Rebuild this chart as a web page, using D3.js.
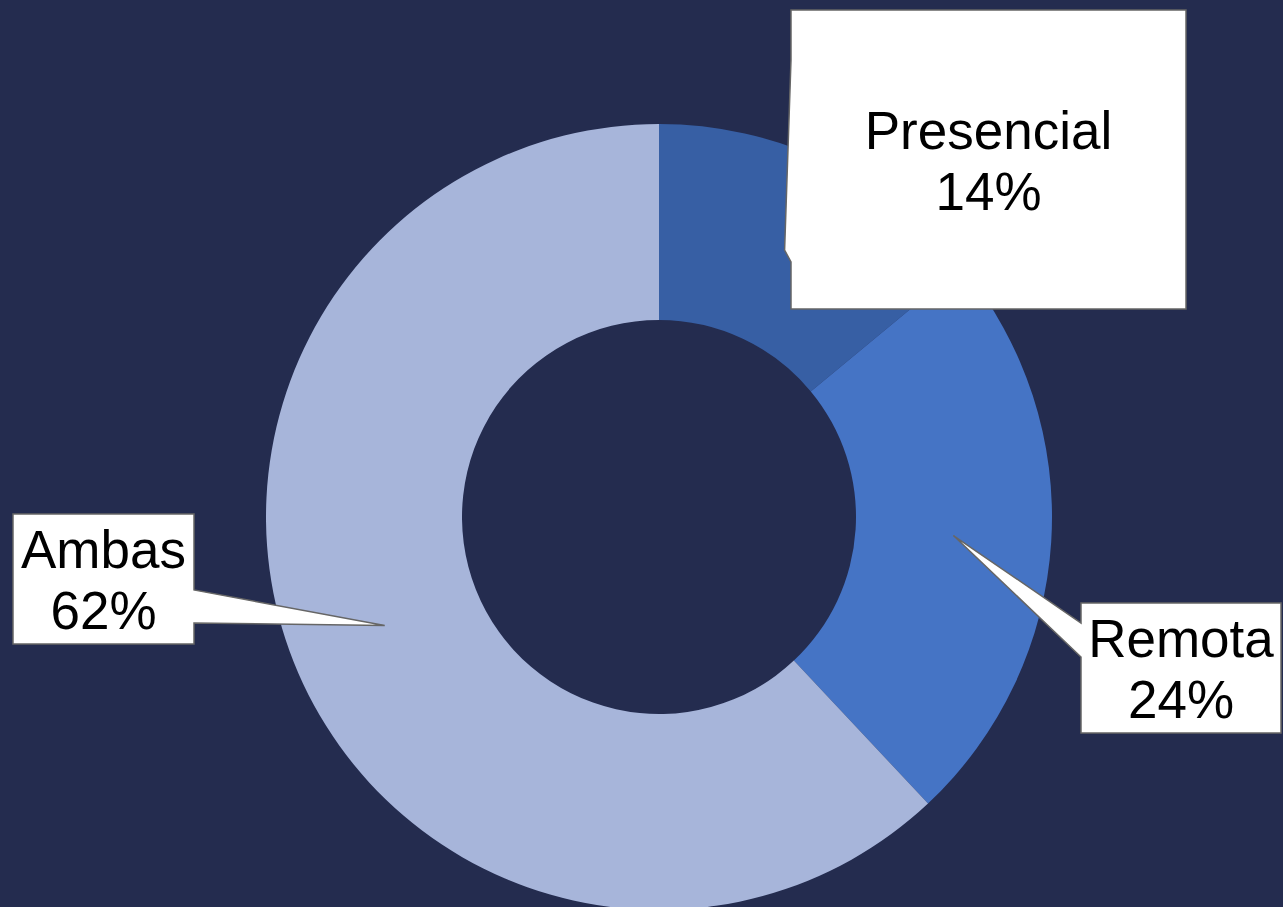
<!DOCTYPE html>
<html>
<head>
<meta charset="utf-8">
<script src="https://cdn.jsdelivr.net/npm/d3@7"></script>
<style>
  html, body { margin: 0; padding: 0; background: #242c4f; }
  svg { display: block; }
</style>
</head>
<body>
<svg id="chart" width="1283" height="907"></svg>
<script>
const categories = ["Presencial", "Remota", "Ambas"];
const values = [14, 24, 62];
const colors = ["#375fa4", "#4574c5", "#a7b5da"];

// callout boxes (layout): x0, y0, x1, y1, side of the pointer
const boxes = [
  { x0: 791, y0: 10, x1: 1186, y1: 309, side: "left", b0: 60, b1: 262 },
  { x0: 1081, y0: 603, x1: 1281, y1: 733, side: "left", b0: 623, b1: 657 },
  { x0: 13, y0: 514, x1: 194, y1: 644, side: "right", b0: 590, b1: 623 }
];

const svg = d3.select("#chart");
const cx = 659, cy = 517, rOuter = 393, rInner = 197;

const pie = d3.pie().sort(null).value(d => d)(values);
const arc = d3.arc().innerRadius(rInner).outerRadius(rOuter);

const g = svg.append("g").attr("transform", `translate(${cx},${cy})`);
g.selectAll("path.slice").data(pie).join("path")
  .attr("class", "slice")
  .attr("d", arc)
  .attr("fill", (d, i) => colors[i]);

const fmt = d3.format(".0%");
const total = d3.sum(values);

pie.forEach((d, i) => {
  const c = arc.centroid(d);
  const tx = cx + c[0], ty = cy + c[1];
  const b = boxes[i];
  let p;
  if (b.side === "left") {
    p = `M${b.x0},${b.y0} L${b.x1},${b.y0} L${b.x1},${b.y1} L${b.x0},${b.y1} L${b.x0},${b.b1} L${tx},${ty} L${b.x0},${b.b0} Z`;
  } else {
    p = `M${b.x0},${b.y0} L${b.x1},${b.y0} L${b.x1},${b.b0} L${tx},${ty} L${b.x1},${b.b1} L${b.x1},${b.y1} L${b.x0},${b.y1} Z`;
  }
  svg.append("path")
    .attr("d", p)
    .attr("fill", "#ffffff")
    .attr("stroke", "#666666")
    .attr("stroke-width", 1.5)
    .attr("stroke-linejoin", "miter");
  const mx = (b.x0 + b.x1) / 2, my = (b.y0 + b.y1) / 2;
  const t = svg.append("text")
    .attr("text-anchor", "middle")
    .attr("font-family", "'Liberation Sans', Arial, sans-serif")
    .attr("font-size", 53)
    .attr("fill", "#000000");
  t.append("tspan").attr("x", mx).attr("y", my - 11).text(categories[i]);
  t.append("tspan").attr("x", mx).attr("y", my + 50).text(fmt(values[i] / total));
});
</script>
</body>
</html>
